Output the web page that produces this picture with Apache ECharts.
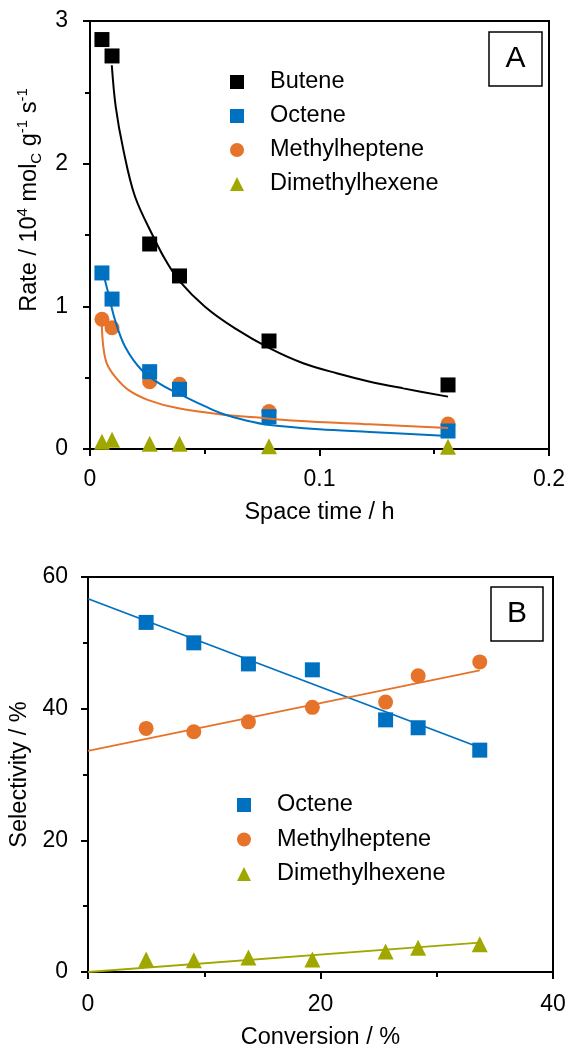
<!DOCTYPE html>
<html><head><meta charset="utf-8">
<script src="https://cdn.jsdelivr.net/npm/echarts@6/dist/echarts.min.js"></script>
<style>html,body{margin:0;padding:0;background:#fff}#c{width:571px;height:1048px}</style>
</head><body><div id="c"></div>
<script>
// ---------- Panel A data ----------
const spaceTime = [0.0052, 0.0096, 0.026, 0.039, 0.078, 0.156];
const rateButene = [2.87, 2.755, 1.437, 1.213, 0.757, 0.449];
const rateOctene = [1.234, 1.051, 0.542, 0.418, 0.226, 0.126];
const rateMethylheptene = [0.909, 0.85, 0.472, 0.453, 0.262, 0.175];
const rateDimethylhexene = [0.05, 0.065, 0.037, 0.037, 0.02, 0.015];
// fitted curves
const fitButeneX = [0.0095, 0.0112, 0.0145, 0.0196, 0.0283, 0.0329, 0.0392, 0.0501, 0.0632, 0.0784, 0.0929, 0.1075, 0.122, 0.1365, 0.156];
const fitButeneY = [2.69, 2.40, 2.10, 1.77, 1.465, 1.325, 1.173, 0.997, 0.845, 0.705, 0.601, 0.531, 0.472, 0.425, 0.367];
const fitOcteneX = [0.0065, 0.008, 0.0109, 0.0153, 0.0225, 0.0312, 0.0428, 0.05, 0.058, 0.068, 0.0784, 0.1, 0.122, 0.156];
const fitOcteneY = [1.185, 1.09, 0.904, 0.717, 0.554, 0.449, 0.355, 0.3, 0.245, 0.2, 0.168, 0.138, 0.12, 0.091];
const fitMethylX = [0.0051, 0.0058, 0.0073, 0.0109, 0.0167, 0.0254, 0.0385, 0.058, 0.072, 0.09, 0.122, 0.156];
const fitMethylY = [0.88, 0.717, 0.60, 0.507, 0.414, 0.343, 0.285, 0.24, 0.222, 0.198, 0.173, 0.147];

// ---------- Panel B data ----------
const conversion = [5.0, 9.1, 13.8, 19.3, 25.6, 28.4, 33.7];
const selOctene = [53.1, 50.0, 46.8, 45.9, 38.3, 37.1, 33.7];
const selMethylheptene = [37.0, 36.5, 38.0, 40.2, 41.0, 45.0, 47.1];
const selDimethylhexene = [1.9, 1.8, 2.2, 1.9, 3.1, 3.7, 4.2];
const fitConvX = [0, 33.7];
const fitOcteneB = [56.7, 34.1];
const fitMethylB = [33.6, 45.8];
const fitDimethylB = [0, 4.45];

const legendNamesA = ['Butene', 'Octene', 'Methylheptene', 'Dimethylhexene'];
const legendNamesB = ['Octene', 'Methylheptene', 'Dimethylhexene'];

const FONT = '"Liberation Sans", Arial, sans-serif';
const BLACK = '#000000', BLUE = '#0070C0', ORANGE = '#E6732A', GREEN = '#A0A800';
const TICK_FS = 23, TEXT_FS = 23.5;
const pairs = (xs, ys) => xs.map((x, i) => [x, ys[i]]);

function axis(grid, min, max, interval, extra) {
  return Object.assign({
    gridIndex: grid, type: 'value', min: min, max: max, interval: interval,
    axisLine: { show: true, onZero: false, lineStyle: { color: BLACK, width: 2 } },
    axisTick: { show: true, inside: false, length: 7, lineStyle: { color: BLACK, width: 2 } },
    minorTick: { show: true, splitNumber: 2, length: 5, lineStyle: { color: BLACK, width: 2 } },
    splitLine: { show: false }, minorSplitLine: { show: false },
    nameLocation: 'middle',
    nameTextStyle: { color: BLACK, fontSize: TEXT_FS, fontFamily: FONT },
  }, extra);
}
const lbl = (m) => ({ color: BLACK, fontSize: TICK_FS, fontFamily: FONT, margin: m });

function scatter(name, xi, xs, ys, symbol, size, color) {
  return { type: 'scatter', name: name, xAxisIndex: xi, yAxisIndex: xi, data: pairs(xs, ys),
    symbol: symbol, symbolSize: size, itemStyle: { color: color, opacity: 1 }, z: 2, silent: true };
}
function fit(name, xi, xs, ys, color, w, smooth) {
  return { type: 'line', name: name, xAxisIndex: xi, yAxisIndex: xi, data: pairs(xs, ys),
    symbol: 'none', showSymbol: false, smooth: smooth,
    lineStyle: { color: color, width: w }, itemStyle: { color: color }, z: 3, silent: true };
}
function legend(names, left, top, gap) {
  return { data: names, orient: 'vertical', left: left, top: top, itemWidth: 14, itemHeight: 14, itemGap: gap,
    selectedMode: false, textStyle: { color: BLACK, fontSize: TEXT_FS, fontFamily: FONT, padding: [0, 0, 0, 21] } };
}

const chart = echarts.init(document.getElementById('c'), null, { renderer: 'canvas' });
chart.setOption({
  animation: false,
  backgroundColor: '#fff',
  grid: [
    { left: 90, top: 21, width: 459, height: 428, show: true, borderColor: BLACK, borderWidth: 2, containLabel: false, outerBoundsMode: 'none' },
    { left: 88, top: 577, width: 465, height: 395, show: true, borderColor: BLACK, borderWidth: 2, containLabel: false, outerBoundsMode: 'none' }
  ],
  xAxis: [
    axis(0, 0, 0.2, 0.1, { axisLabel: lbl(19), name: 'Space time / h', nameGap: 52 }),
    axis(1, 0, 40, 20, { axisLabel: lbl(21), name: 'Conversion / %', nameGap: 54 })
  ],
  yAxis: [
    axis(0, 0, 3, 1, {
      axisLabel: lbl(22), nameGap: 46,
      name: '{m|Rate / 10}{sup|4}{m| mol}{sub|C}{m| g}{sup|-1}{m| s}{sup|-1}',
      nameTextStyle: { color: BLACK, fontSize: TEXT_FS, fontFamily: FONT, padding: [0, 0, 0, 70], rich: {
        m: { fontSize: TEXT_FS, fontFamily: FONT, color: BLACK, lineHeight: 29 },
        sup: { fontSize: 15, fontFamily: FONT, color: BLACK, lineHeight: 15, verticalAlign: 'top' },
        sub: { fontSize: 15, fontFamily: FONT, color: BLACK, lineHeight: 15, verticalAlign: 'bottom' }
      } }
    }),
    axis(1, 0, 60, 20, { axisLabel: lbl(20), name: 'Selectivity / %', nameGap: 55 })
  ],
  legend: [ legend(legendNamesA, 225, 65, 10), legend(legendNamesB, 232, 788, 10.5) ],
  series: [
    scatter('Butene', 0, spaceTime, rateButene, 'rect', 15, BLACK),
    scatter('Methylheptene', 0, spaceTime, rateMethylheptene, 'circle', 15, ORANGE),
    scatter('Octene', 0, spaceTime, rateOctene, 'rect', 15, BLUE),
    scatter('Dimethylhexene', 0, spaceTime, rateDimethylhexene, 'triangle', 16, GREEN),
    fit('Butene fit', 0, fitButeneX, fitButeneY, BLACK, 2, 0.35),
    fit('Methylheptene fit', 0, fitMethylX, fitMethylY, ORANGE, 2, 0.35),
    fit('Octene fit', 0, fitOcteneX, fitOcteneY, BLUE, 2, 0.35),

    scatter('Octene', 1, conversion, selOctene, 'rect', 15, BLUE),
    scatter('Methylheptene', 1, conversion, selMethylheptene, 'circle', 15, ORANGE),
    scatter('Dimethylhexene', 1, conversion, selDimethylhexene, 'triangle', 16, GREEN),
    fit('Octene line B', 1, fitConvX, fitOcteneB, BLUE, 1.8, false),
    fit('Methylheptene line B', 1, fitConvX, fitMethylB, ORANGE, 1.8, false),
    fit('Dimethylhexene line B', 1, fitConvX, fitDimethylB, GREEN, 1.8, false)
  ],
  graphic: [
    { type: 'rect', shape: { x: 489, y: 32, width: 53, height: 54 }, style: { fill: '#fff', stroke: BLACK, lineWidth: 1.5 }, z: 10 },
    { type: 'text', x: 515.5, y: 59, style: { text: 'A', fontSize: 30, fontFamily: FONT, fill: BLACK, align: 'center', verticalAlign: 'middle', textAlign: 'center', textVerticalAlign: 'middle' }, z: 11 },
    { type: 'rect', shape: { x: 491, y: 587, width: 52, height: 54 }, style: { fill: '#fff', stroke: BLACK, lineWidth: 1.5 }, z: 10 },
    { type: 'text', x: 517, y: 614, style: { text: 'B', fontSize: 30, fontFamily: FONT, fill: BLACK, align: 'center', verticalAlign: 'middle', textAlign: 'center', textVerticalAlign: 'middle' }, z: 11 }
  ]
});
</script></body></html>
